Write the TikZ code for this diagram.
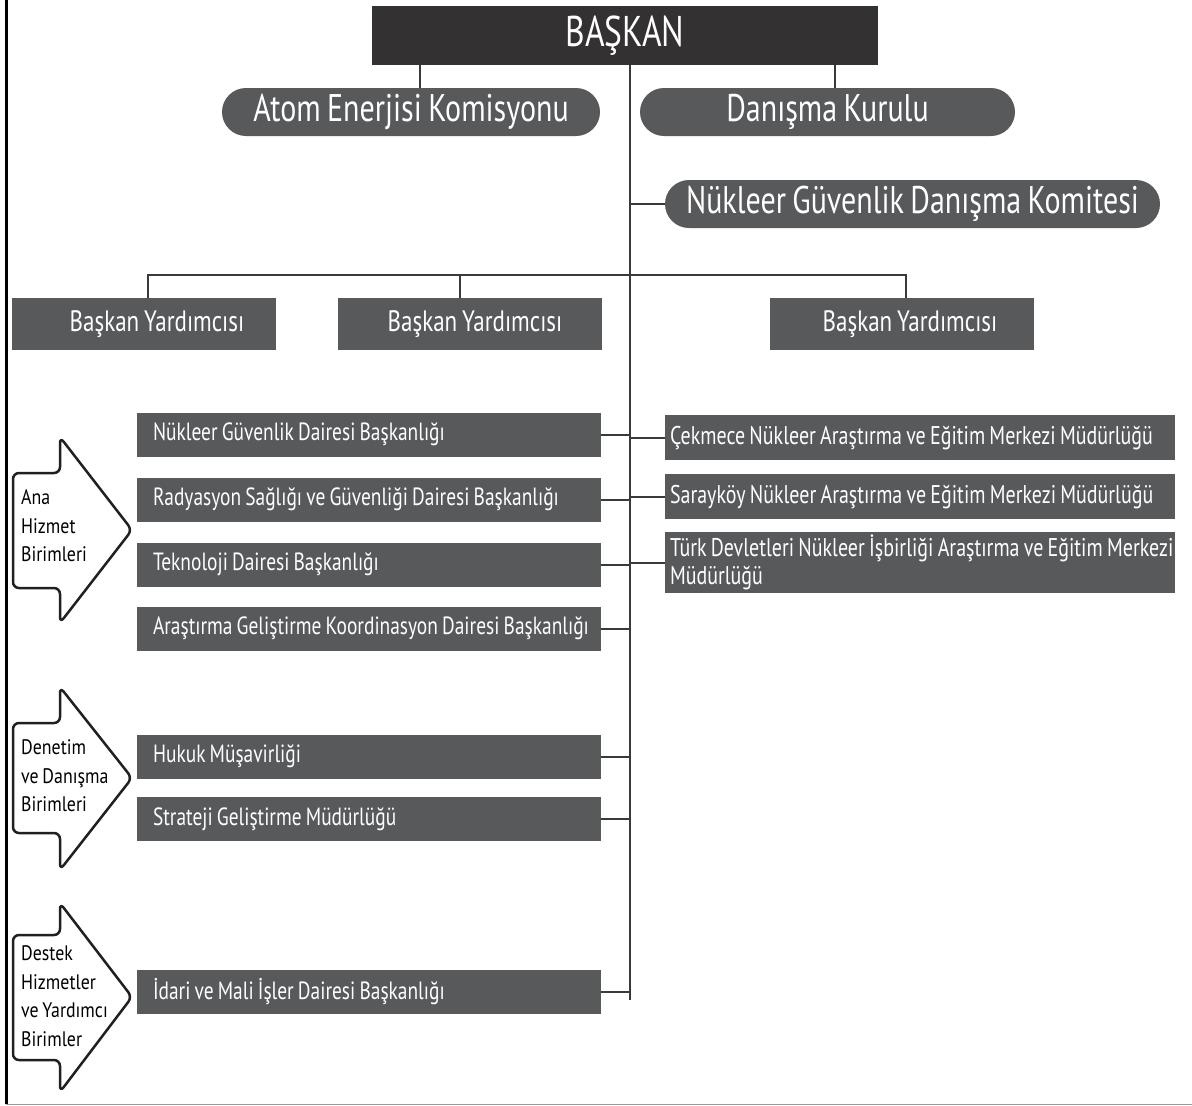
\documentclass[tikz,border=0pt]{standalone}
\usepackage{fontspec}
\setmainfont{PT Sans}[FakeStretch=0.78, WordSpace=0.8]
\newfontfamily\arrowfont{PT Sans}[FakeStretch=0.85, WordSpace=0.8]
\usetikzlibrary{shapes.misc}
\definecolor{boxg}{HTML}{58595B}
\definecolor{topg}{HTML}{333132}
\definecolor{lineg}{HTML}{3A3A3A}
\definecolor{arrowk}{HTML}{231F20}
\newcommand{\fitl}[2]{\makebox[#1][l]{#2}}
\tikzset{
  topbox/.style={fill=topg, text=white, minimum width=506, minimum height=59, inner sep=0pt, font=\fontsize{43}{43}\selectfont},
  rbox/.style={rounded rectangle, fill=boxg, text=white, minimum height=48, inner sep=0pt, font=\fontsize{38.5}{39}\selectfont},
  ybox/.style={fill=boxg, text=white, minimum width=264, minimum height=52, inner sep=0pt, font=\fontsize{29.5}{30}\selectfont},
  lbox/.style={fill=boxg, text=white, minimum width=464, minimum height=44, inner xsep=16pt, inner ysep=0pt, font=\fontsize{24.9}{28}\selectfont},
  rrbox/.style={fill=boxg, text=white, minimum width=510, minimum height=45, inner xsep=5pt, inner ysep=0pt, align=left, font=\fontsize{25.6}{28.5}\selectfont},
  conn/.style={draw=lineg, line width=2pt},
  arrowshape/.style={draw=arrowk, line width=2.5pt, fill=white, rounded corners=6pt, line join=round},
  arrowtext/.style={anchor=west, align=left, inner sep=0pt, font=\arrowfont\fontsize{21}{28.5}\selectfont}
}
\begin{document}
\begin{tikzpicture}[x=1pt,y=-1pt]
\useasboundingbox (0,0) rectangle (1192,1106);
\fill[white] (0,0) rectangle (1192,1106);
% frame lines
\draw[line width=3pt, black] (6,0) -- (6,1104);
\draw[line width=1.5pt, black!40] (6,1104.5) -- (1192,1104.5);

% coordinates
\coordinate (trunk) at (630,0);
\coordinate (tbot) at (630,1000);
\coordinate (ca) at (420,0);
\coordinate (cd) at (835,0);
\coordinate (hb) at (0,275);
\coordinate (v1) at (148,0);
\coordinate (v2) at (460,0);
\coordinate (v3) at (906,0);

% top nodes
\node[topbox] (bk) at (625,35.5) {BAŞKAN};
\node[rbox, minimum width=378] (ak) at (411,112) {Atom Enerjisi Komisyonu};
\node[rbox, minimum width=375] (dk) at (827.5,112) {Danışma Kurulu};
\node[rbox, minimum width=495] (ngk) at (912.5,204) {Nükleer Güvenlik Danışma Komitesi};

\node[ybox] (by1) at (144,324) {\hspace*{26pt}Başkan Yardımcısı};
\node[ybox] (by2) at (470,324) {\hspace*{10pt}Başkan Yardımcısı};
\node[ybox] (by3) at (902,324) {\hspace*{16pt}Başkan Yardımcısı};

% left column
\node[lbox] (l1) at (369,434.5) {\fitl{432pt}{Nükleer Güvenlik Dairesi Başkanlığı}};
\node[lbox] (l2) at (369,499.5) {\fitl{432pt}{Radyasyon Sağlığı ve Güvenliği Dairesi Başkanlığı}};
\node[lbox] (l3) at (369,564.5) {\fitl{432pt}{Teknoloji Dairesi Başkanlığı}};
\node[lbox] (l4) at (369,628.5) {\fitl{432pt}{Araştırma Geliştirme Koordinasyon Dairesi Başkanlığı}};
\node[lbox] (l5) at (369,756.5) {\fitl{432pt}{Hukuk Müşavirliği}};
\node[lbox] (l6) at (369,819) {\fitl{432pt}{Strateji Geliştirme Müdürlüğü}};
\node[lbox] (l7) at (369,991.5) {\fitl{432pt}{İdari ve Mali İşler Dairesi Başkanlığı}};

% right column
\node[rrbox] (r1) at (920,437.5) {\fitl{500pt}{Çekmece Nükleer Araştırma ve Eğitim Merkezi Müdürlüğü}};
\node[rrbox] (r2) at (920,496.5) {\fitl{500pt}{Sarayköy Nükleer Araştırma ve Eğitim Merkezi Müdürlüğü}};
\node[rrbox, minimum height=61] (r3) at (920,562.5) {\fitl{500pt}{Türk Devletleri Nükleer İşbirliği Araştırma ve Eğitim Merkezi}\\\fitl{500pt}{Müdürlüğü}};

% connectors
\draw[conn] (trunk |- bk.south) -- (tbot);
\draw[conn] (ca |- bk.south) -- (ca |- ak.north);
\draw[conn] (cd |- bk.south) -- (cd |- dk.north);
\draw[conn] (trunk |- ngk.west) -- (ngk.west);
\draw[conn] (v1 |- by1.north) -- (v1 |- hb) -- (v3 |- hb) -- (v3 |- by3.north);
\draw[conn] (v2 |- by2.north) -- (v2 |- hb);
\foreach \n in {l1,l2,l3,l4,l5,l6,l7} {\draw[conn] (\n.east) -- (\n.east -| trunk);}
\foreach \n in {r1,r2,r3} {\draw[conn] (\n.west) -- (\n.west -| trunk);}

% category arrows
\draw[arrowshape] (13,473) -- (60,473) -- (60,437) -- (132,530) -- (60,623) -- (60,588) -- (13,588) -- cycle;
\draw[arrowshape] (13,723) -- (60,723) -- (60,687) -- (132,778) -- (60,870) -- (60,833) -- (13,833) -- cycle;
\draw[arrowshape] (13,935) -- (60,935) -- (60,903) -- (132,997) -- (60,1092) -- (60,1060) -- (13,1060) -- cycle;
\node[arrowtext] (t1) at (21,526) {Ana\\Hizmet\\Birimleri};
\node[arrowtext] (t2) at (21,776) {Denetim\\ve Danışma\\Birimleri};
\node[arrowtext] (t3) at (21,996) {Destek\\Hizmetler\\ve Yardımcı\\Birimler};
\end{tikzpicture}
\end{document}
